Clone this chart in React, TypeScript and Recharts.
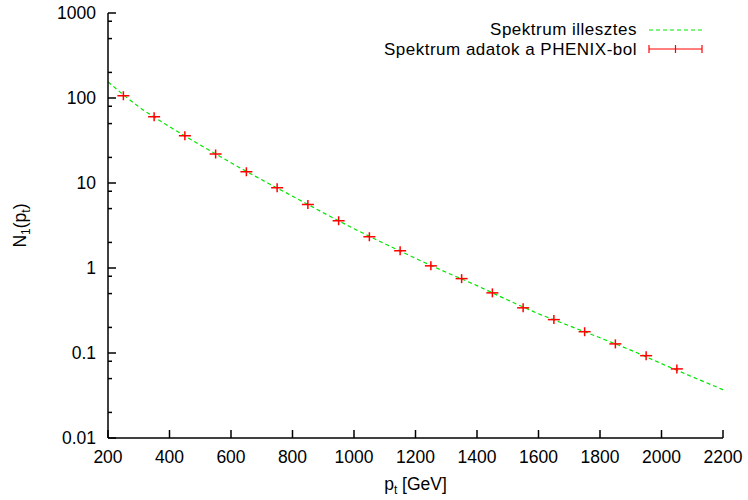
import React from "react"
import { ComposedChart, Line, Scatter, XAxis, YAxis, Legend, Label } from "recharts"

// PHENIX spectrum points (pt in GeV)
const ptValues = [250, 350, 450, 550, 650, 750, 850, 950, 1050, 1150, 1250, 1350, 1450, 1550, 1650, 1750, 1850, 1950, 2050]
const nValues = [106, 60, 36, 22, 13.6, 8.8, 5.6, 3.6, 2.33, 1.6, 1.06, 0.75, 0.51, 0.34, 0.247, 0.178, 0.128, 0.093, 0.065]

// fitted curve
const fitPt = [200, 300, 400, 500, 600, 700, 800, 900, 1000, 1100, 1200, 1300, 1400, 1500, 1600, 1700, 1800, 1900, 2000, 2100, 2200]
const fitN = [155, 79, 46, 28, 17.3, 10.9, 7.0, 4.47, 2.9, 1.93, 1.3, 0.89, 0.62, 0.42, 0.29, 0.209, 0.151, 0.108, 0.075, 0.0525, 0.037]

const xTicks = [200, 400, 600, 800, 1000, 1200, 1400, 1600, 1800, 2000, 2200]
const yMajorTicks = [0.01, 0.1, 1, 10, 100, 1000]
const yTickLabels = ["0.01", "0.1", "1", "10", "100", "1000"]
const yMinorTicks = [0.02, 0.05, 0.08, 0.2, 0.5, 0.8, 2, 5, 8, 20, 50, 80, 200, 500, 800]
const yTicks = [...yMajorTicks, ...yMinorTicks].sort((a, b) => a - b)

const legendLabels = ["Spektrum illesztes", "Spektrum adatok a PHENIX-bol"]

const points = ptValues.map((pt, i) => ({ pt, n: nValues[i] }))
const fit = fitPt.map((pt, i) => ({ pt, n: fitN[i] }))

const FONT = "'Liberation Sans', Arial, Helvetica, sans-serif"
const RED = "#ff0000"
const GREEN = "#00e600"

const BottomTick = (props: any) => {
  const { x, y, payload } = props
  return (
    <g>
      <line x1={x} y1={y} x2={x} y2={y - 8} stroke="#000" strokeWidth={1.5} />
      <text x={x} y={y + 25} textAnchor="middle" fontSize={17.5} fill="#000">
        {payload.value}
      </text>
    </g>
  )
}

const TopTick = (props: any) => {
  const { x, y } = props
  return <line x1={x} y1={y} x2={x} y2={y + 8} stroke="#000" strokeWidth={1.5} />
}

const LeftTick = (props: any) => {
  const { x, y, payload } = props
  const i = yMajorTicks.indexOf(payload.value)
  const major = i >= 0
  return (
    <g>
      <line x1={x} y1={y} x2={x + (major ? 8 : 4)} y2={y} stroke="#000" strokeWidth={1.5} />
      {major && (
        <text x={x - 12} y={y + 6} textAnchor="end" fontSize={17.5} fill="#000">
          {yTickLabels[i]}
        </text>
      )}
    </g>
  )
}

const RightTick = (props: any) => {
  const { x, y, payload } = props
  const major = yMajorTicks.indexOf(payload.value) >= 0
  return <line x1={x} y1={y} x2={x - (major ? 8 : 4)} y2={y} stroke="#000" strokeWidth={1.5} />
}

const PlusMark = (props: any) => {
  const { cx, cy } = props
  return (
    <g stroke={RED} strokeWidth={1.5}>
      <line x1={cx - 6} y1={cy} x2={cx + 6} y2={cy} />
      <line x1={cx} y1={cy - 4.5} x2={cx} y2={cy + 4.5} />
    </g>
  )
}

const renderLegend = () => (
  <div style={{ fontFamily: FONT, fontSize: 17, letterSpacing: "0.5px", lineHeight: "19.5px", color: "#000" }}>
    {legendLabels.map((label, i) => (
      <div key={label} style={{ display: "flex", justifyContent: "flex-end", alignItems: "center", height: 19.5 }}>
        <span style={{ whiteSpace: "nowrap" }}>{label}</span>
        <svg width={55} height={10} style={{ marginLeft: 11 }}>
          {i === 0 ? (
            <line x1={1} y1={5} x2={54} y2={5} stroke={GREEN} strokeWidth={1.2} strokeDasharray="4 3" />
          ) : (
            <g stroke={RED} strokeWidth={1.2}>
              <line x1={1} y1={5} x2={54} y2={5} />
              <line x1={1} y1={1} x2={1} y2={9} />
              <line x1={54} y1={1} x2={54} y2={9} />
              <line x1={27.5} y1={1} x2={27.5} y2={9} />
            </g>
          )}
        </svg>
      </div>
    ))}
  </div>
)

export default function App() {
  return (
    <div style={{ position: "absolute", left: 0, top: 0, background: "#fff", fontFamily: FONT }}>
      <ComposedChart width={748} height={500} margin={{ top: 13, right: 25, bottom: 12, left: 8 }}>
        <XAxis
          dataKey="pt"
          type="number"
          domain={[200, 2200]}
          ticks={xTicks}
          interval={0}
          height={50}
          tickSize={0}
          tickMargin={0}
          tickLine={false}
          axisLine={{ stroke: "#000", strokeWidth: 1.5 }}
          tick={BottomTick}
        >
          <Label
            content={(p: any) => {
              const vb = p.viewBox
              return (
                <text x={vb.x + vb.width / 2} y={vb.y + 52} textAnchor="middle" fontSize={17.5} fill="#000">
                  p<tspan dy={4} fontSize={12}>t</tspan>
                  <tspan dy={-4}> [GeV]</tspan>
                </text>
              )
            }}
          />
        </XAxis>
        <XAxis
          xAxisId="top"
          orientation="top"
          type="number"
          domain={[200, 2200]}
          ticks={xTicks}
          interval={0}
          height={0}
          tickSize={0}
          tickMargin={0}
          tickLine={false}
          axisLine={{ stroke: "#000", strokeWidth: 1.5 }}
          tick={TopTick}
        />
        <YAxis
          dataKey="n"
          type="number"
          scale="log"
          domain={[0.01, 1000]}
          allowDataOverflow
          ticks={yTicks}
          interval={0}
          width={100}
          tickSize={0}
          tickMargin={0}
          tickLine={false}
          axisLine={{ stroke: "#000", strokeWidth: 1.5 }}
          tick={LeftTick}
        >
          <Label
            content={(p: any) => {
              const vb = p.viewBox
              const cx = vb.x + vb.width - 82
              const cy = vb.y + vb.height / 2
              return (
                <text x={cx} y={cy} transform={`rotate(-90, ${cx}, ${cy})`} textAnchor="middle" fontSize={17.5} fill="#000">
                  N<tspan dy={4} fontSize={12}>1</tspan>
                  <tspan dy={-4}>(p</tspan>
                  <tspan dy={4} fontSize={12}>t</tspan>
                  <tspan dy={-4}>)</tspan>
                </text>
              )
            }}
          />
        </YAxis>
        <YAxis
          yAxisId="right"
          orientation="right"
          type="number"
          scale="log"
          domain={[0.01, 1000]}
          allowDataOverflow
          ticks={yTicks}
          interval={0}
          width={0}
          tickSize={0}
          tickMargin={0}
          tickLine={false}
          axisLine={{ stroke: "#000", strokeWidth: 1.5 }}
          tick={RightTick}
        />
        <Legend
          layout="horizontal"
          verticalAlign="middle"
          align="center"
          wrapperStyle={{ top: 20, right: 45, left: "auto", width: "auto" }}
          content={renderLegend}
        />
        <Line
          data={fit}
          dataKey="n"
          type="monotone"
          stroke={GREEN}
          strokeWidth={1.2}
          strokeDasharray="4 3"
          dot={false}
          activeDot={false}
          isAnimationActive={false}
        />
        <Scatter data={points} dataKey="n" shape={PlusMark} isAnimationActive={false} />
      </ComposedChart>
    </div>
  )
}
